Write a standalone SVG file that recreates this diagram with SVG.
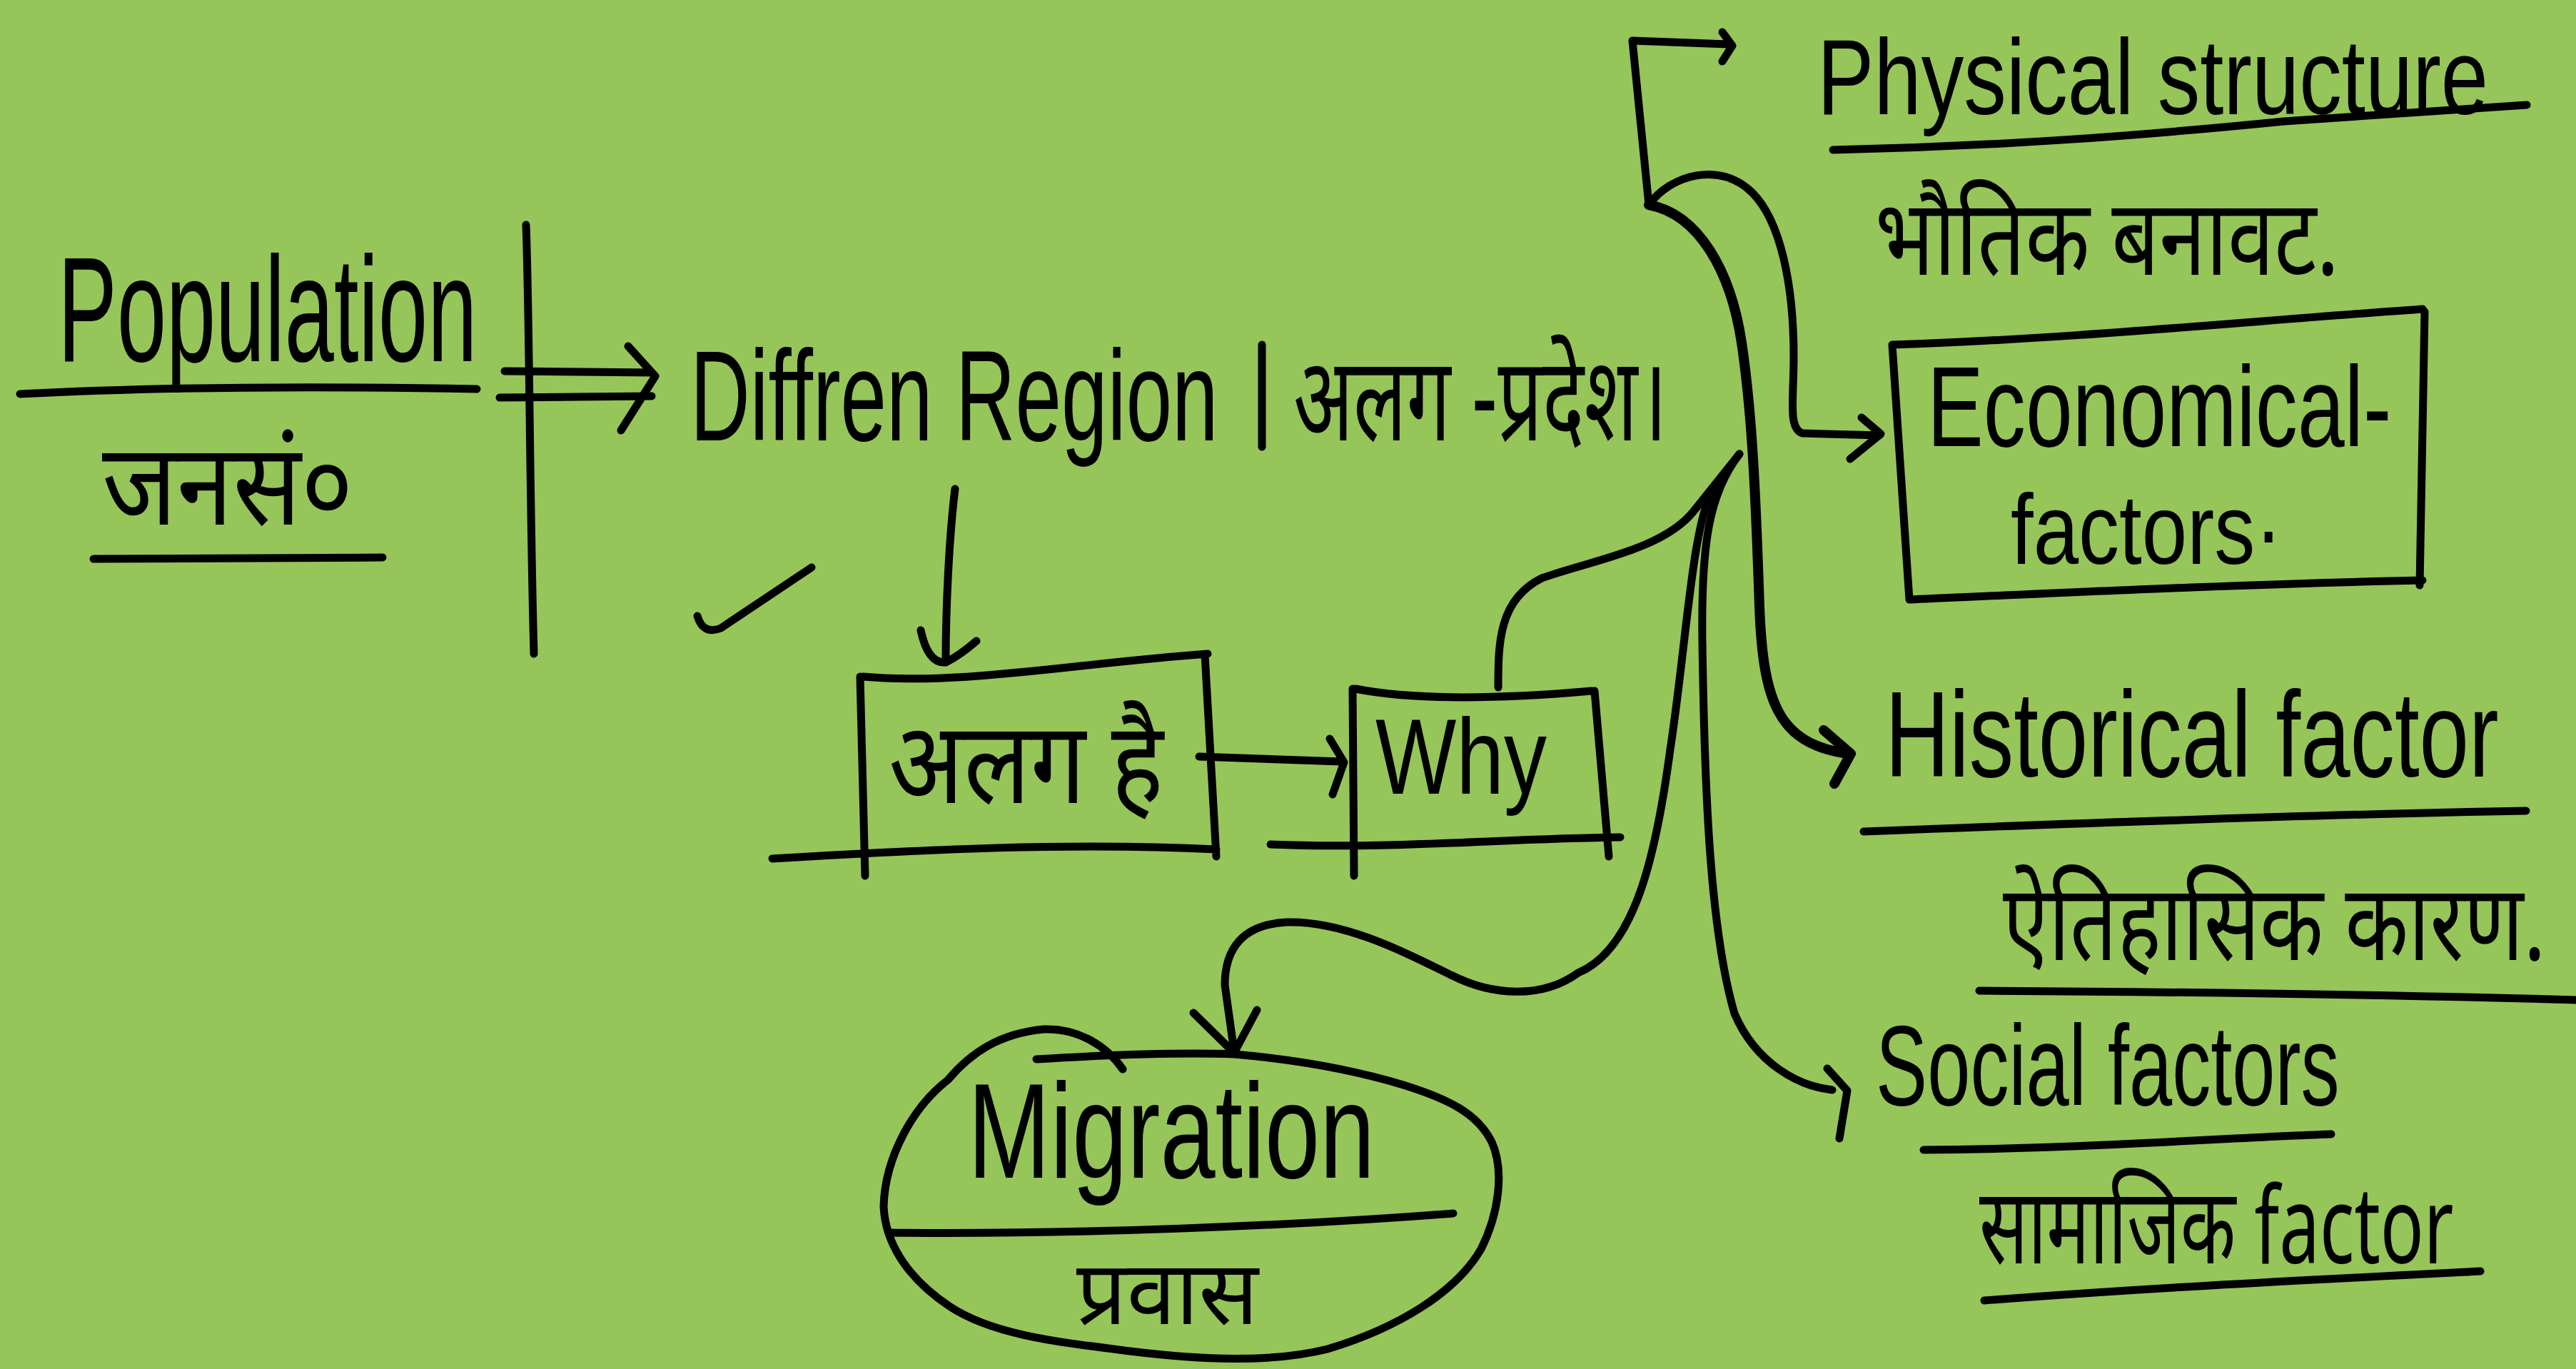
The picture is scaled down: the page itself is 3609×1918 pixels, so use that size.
<svg xmlns="http://www.w3.org/2000/svg" width="3609" height="1918" viewBox="0 0 3609 1918">
<style>
.s{fill:none;stroke:#000;stroke-width:11;stroke-linecap:round;stroke-linejoin:round}
.t{fill:#000;font-family:"Liberation Sans","DejaVu Sans",sans-serif}
.d{fill:#000;font-family:"Noto Sans Devanagari","Noto Sans","Liberation Sans","DejaVu Sans",sans-serif}
</style>
<rect width="3609" height="1918" fill="#96C55A"/>
<g id="population">
<text class="t" transform="translate(81,506) scale(0.592,1)" font-size="210" textLength="992" lengthAdjust="spacingAndGlyphs">Population</text>
<path class="s" d="M28,552 Q300,538 668,545"/>
<text class="d" x="143" y="735" font-size="160" textLength="352" lengthAdjust="spacingAndGlyphs">जनसं०</text>
<path class="s" d="M131,783 L536,781"/>
<path class="s" d="M737,315 C742,450 742,700 748,916"/>
</g>
<g id="region">
<text class="t" transform="translate(967,617) scale(0.643,1)" font-size="180" textLength="1150" lengthAdjust="spacingAndGlyphs">Diffren Region</text>
<path class="s" d="M1768,483 L1768,626"/>
<text class="d" x="1812" y="617" font-size="165" textLength="524" lengthAdjust="spacingAndGlyphs">अलग -प्रदेश।</text>
<path class="s" d="M977,863 Q985,890 1010,880 L1137,795"/>
</g>
<g id="alag">
<path class="s" d="M1209,948 C1350,960 1500,930 1692,916 M1205,948 L1212,1227 M1688,917 L1704,1200 M1082,1203 C1300,1190 1500,1180 1704,1190"/>
<text class="d" x="1245" y="1125" font-size="160" textLength="385" lengthAdjust="spacingAndGlyphs">अलग है</text>
</g>
<g id="why">
<path class="s" d="M1899,965 C2000,985 2150,975 2230,968 M1895,965 L1897,1227 M2234,968 L2254,1200 M1780,1183 C1950,1190 2100,1175 2270,1173"/>
<text class="t" transform="translate(1927,1112) scale(0.8,1)" font-size="150" textLength="300" lengthAdjust="spacingAndGlyphs">Why</text>
</g>
<g id="migration">
<path class="s" d="M1452,1484 C1550,1478 1650,1474 1730,1477 C1820,1485 1900,1500 1966,1520 C2030,1540 2070,1560 2090,1600 C2108,1640 2100,1700 2075,1750 C2040,1810 1960,1860 1860,1890 C1780,1910 1680,1905 1583,1893 C1480,1880 1390,1870 1330,1830 C1270,1790 1240,1740 1238,1690 C1240,1620 1280,1550 1328,1513 C1360,1475 1400,1448 1462,1442 C1510,1440 1550,1465 1573,1498"/>
<path class="s" d="M1245,1727 C1500,1730 1800,1718 2036,1700"/>
<text class="t" transform="translate(1356,1650) scale(0.73,1)" font-size="190" textLength="781" lengthAdjust="spacingAndGlyphs">Migration</text>
<text class="d" x="1508" y="1855" font-size="125" textLength="255" lengthAdjust="spacingAndGlyphs">प्रवास</text>
</g>
<g id="physical">
<text class="t" transform="translate(2546,160) scale(0.794,1)" font-size="150" textLength="1184" lengthAdjust="spacingAndGlyphs">Physical structure</text>
<path class="s" d="M2568,210 C2800,205 3000,190 3200,170 L3540,147"/>
<text class="d" x="2627" y="385" font-size="150" textLength="650" lengthAdjust="spacingAndGlyphs">भौतिक बनावट.</text>
</g>
<g id="economical">
<path class="s" d="M2651,483 C2900,475 3150,450 3394,433 L3397,437 L3390,820 M2651,483 L2675,840 M2675,840 C2900,830 3150,818 3394,813"/>
<text class="t" transform="translate(2700,625) scale(0.739,1)" font-size="160" textLength="880" lengthAdjust="spacingAndGlyphs">Economical-</text>
<text class="t" transform="translate(2817,790) scale(0.814,1)" font-size="140" textLength="467" lengthAdjust="spacingAndGlyphs">factors·</text>
</g>
<g id="historical">
<text class="t" transform="translate(2641,1088) scale(0.734,1)" font-size="170" textLength="1171" lengthAdjust="spacingAndGlyphs">Historical factor</text>
<path class="s" d="M2611,1165 C3000,1150 3300,1140 3539,1136"/>
<text class="d" transform="translate(2806,1345) scale(0.776,1)" font-size="150" textLength="980" lengthAdjust="spacingAndGlyphs">ऐतिहासिक कारण.</text>
<path class="s" d="M2773,1388 C3100,1390 3400,1395 3609,1401"/>
</g>
<g id="social">
<text class="t" transform="translate(2628,1548) scale(0.674,1)" font-size="160" textLength="964" lengthAdjust="spacingAndGlyphs">Social factors</text>
<path class="s" d="M2695,1611 C2900,1610 3100,1595 3266,1589"/>
<text class="d" transform="translate(2773,1770) scale(0.674,1)" font-size="150" textLength="986" lengthAdjust="spacingAndGlyphs">सामाजिक factor</text>
<path class="s" d="M2780,1822 C3000,1805 3200,1795 3475,1781"/>
</g>
<g id="connectors">
<path class="s" d="M707,520 L913,522 M700,557 L913,555 M880,485 L918,527 L870,603"/>
<path class="s" d="M1338,685 C1330,750 1325,850 1325,925 M1290,883 Q1300,930 1325,928 Q1345,918 1368,898"/>
<path class="s" d="M1680,1060 L1879,1067 M1863,1035 L1883,1068 L1867,1113"/>
<path class="s" d="M2099,963 C2099,900 2100,840 2160,810 C2230,785 2330,770 2373,716 L2437,636"/>
<path class="s" d="M2421,62 L2287,57 L2310,287 M2413,45 L2427,64 L2413,86"/>
<path class="s" d="M2310,287 C2340,245 2410,225 2455,270 C2495,310 2513,400 2513,500 C2513,560 2505,600 2525,607 L2633,610 M2608,585 L2635,608 L2592,643"/>
<path class="s" style="stroke-width:14" d="M2310,287 C2380,300 2425,380 2440,480 C2455,580 2460,700 2465,850 C2470,980 2490,1040 2583,1055 M2555,1023 L2593,1056 L2570,1098"/>
<path class="s" d="M2437,636 C2395,690 2383,760 2385,900 C2388,1100 2395,1300 2430,1420 C2460,1490 2520,1522 2567,1527 M2560,1497 L2588,1528 L2577,1595"/>
<path class="s" d="M2400,684 C2370,740 2363,900 2340,1050 C2320,1200 2290,1330 2211,1363 C2160,1400 2090,1395 2033,1366 C1960,1330 1880,1290 1803,1292 C1740,1295 1716,1330 1716,1380 L1729,1473 M1672,1419 L1729,1475 L1761,1415"/>
</g>
</svg>
